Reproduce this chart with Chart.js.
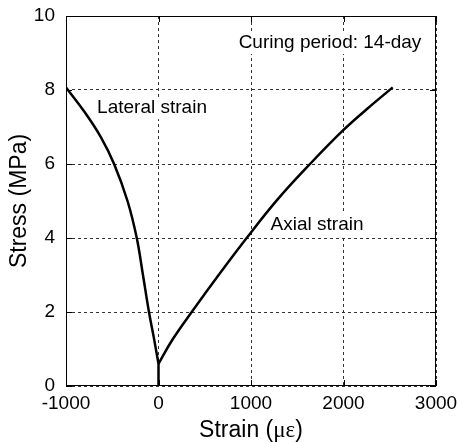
<!DOCTYPE html>
<html>
<head>
<meta charset="utf-8">
<script src="https://cdn.jsdelivr.net/npm/chart.js@4"></script>
<style>
  html, body { margin: 0; padding: 0; background: #fff; }
  #wrap { width: 458px; height: 442px; }
</style>
</head>
<body>
<div id="wrap"><canvas id="chart" width="458" height="442"></canvas></div>
<script>
// === STRESS-STRAIN CURVE (14-day) ===

const xTicks = [-1000, 0, 1000, 2000, 3000];
const yTicks = [0, 2, 4, 6, 8, 10];

const stubStrain = [0, 0];
const stubStress = [0, 0.6];

const lateralStrain = [0, -50, -103, -168, -235, -335, -480, -622, -809, -1000];
const lateralStress = [0.6, 1.3, 2.0, 3.0, 4.0, 5.0, 6.0, 6.72, 7.44, 8.07];

const axialStrain = [0, 150, 359, 650, 953, 1290, 1638, 2000, 2260, 2532];
const axialStress = [0.6, 1.25, 2.0, 3.0, 4.0, 5.05, 6.0, 6.92, 7.5, 8.07];

const notes = [
    { text: 'Curing period: 14-day', x: 1854, y: 9.27 },
    { text: 'Lateral strain', x: -70, y: 7.51 },
    { text: 'Axial strain', x: 1714, y: 4.35 }
];

const SANS = '"Liberation Sans", Arial, sans-serif';
const SERIF = '"Liberation Serif", "Times New Roman", serif';

const toPts = (xs, ys) => xs.map((x, i) => ({ x, y: ys[i] }));

const frameAndNotes = {
    id: 'frameAndNotes',
    afterDatasetsDraw(chart) {
        const { ctx, chartArea: a, scales: { x, y } } = chart;
        ctx.save();
        // frame
        ctx.strokeStyle = '#000';
        ctx.lineWidth = 1;
        ctx.strokeRect(a.left + 0.5, a.top + 0.5, a.right - a.left - 1, a.bottom - a.top - 1);
        // inward ticks on all four sides
        ctx.beginPath();
        xTicks.forEach(v => {
            const px = Math.round(x.getPixelForValue(v)) + 0.5;
            ctx.moveTo(px, a.bottom); ctx.lineTo(px, a.bottom - 6);
            ctx.moveTo(px, a.top); ctx.lineTo(px, a.top + 6);
        });
        yTicks.forEach(v => {
            const py = Math.round(y.getPixelForValue(v)) + 0.5;
            ctx.moveTo(a.left, py); ctx.lineTo(a.left + 6, py);
            ctx.moveTo(a.right, py); ctx.lineTo(a.right - 6, py);
        });
        ctx.stroke();
        // annotations with white boxes
        ctx.font = '19px ' + SANS;
        ctx.textAlign = 'center';
        ctx.textBaseline = 'middle';
        notes.forEach(n => {
            const px = x.getPixelForValue(n.x), py = y.getPixelForValue(n.y);
            const w = ctx.measureText(n.text).width;
            ctx.fillStyle = '#fff';
            ctx.fillRect(px - w / 2 - 2, py - 11, w + 4, 22);
            ctx.fillStyle = '#000';
            ctx.fillText(n.text, px, py);
        });
        // x axis title with serif micro-epsilon
        const parts = [['Strain (', SANS], ['\u03bc\u03b5', SERIF], [')', SANS]];
        ctx.textAlign = 'left';
        ctx.textBaseline = 'alphabetic';
        let total = 0;
        parts.forEach(p => { ctx.font = '23px ' + p[1]; total += ctx.measureText(p[0]).width; });
        let cx = (a.left + a.right) / 2 - total / 2;
        parts.forEach(p => { ctx.font = '23px ' + p[1]; ctx.fillText(p[0], cx, 437); cx += ctx.measureText(p[0]).width; });
        ctx.restore();
    }
};

const line = (data, tension) => ({
    data, showLine: true, borderColor: '#000', borderWidth: 2.5,
    pointRadius: 0, tension, fill: false
});

new Chart(document.getElementById('chart').getContext('2d'), {
    type: 'scatter',
    data: {
        datasets: [
            line(toPts(stubStrain, stubStress), 0),
            line(toPts(lateralStrain, lateralStress), 0.4),
            line(toPts(axialStrain, axialStress), 0.4)
        ]
    },
    options: {
        responsive: false, animation: false,
        layout: { padding: { left: 0, top: 16, right: 22, bottom: 0 } },
        plugins: { legend: { display: false }, tooltip: { enabled: false } },
        scales: {
            x: {
                type: 'linear', min: -1000, max: 3000,
                afterBuildTicks: s => { s.ticks = xTicks.map(v => ({ value: v })); },
                afterFit: s => { s.height = 56; s.paddingLeft = 0; s.paddingRight = 0; },
                grid: { color: '#333', lineWidth: 1, drawTicks: false },
                border: { display: false, dash: [3, 3] },
                ticks: { color: '#000', padding: 6, maxRotation: 0, font: { family: SANS, size: 19 }, callback: v => String(v) }
            },
            y: {
                min: 0, max: 10,
                afterBuildTicks: s => { s.ticks = yTicks.map(v => ({ value: v })); },
                afterFit: s => { s.width = 66; s.paddingTop = 0; s.paddingBottom = 0; },
                grid: { color: '#333', lineWidth: 1, drawTicks: false },
                border: { display: false, dash: [3, 3] },
                title: { display: true, text: 'Stress (MPa)', color: '#000', padding: { top: 6, bottom: 0 }, font: { family: SANS, size: 23 } },
                ticks: { color: '#000', padding: 11, font: { family: SANS, size: 19 }, callback: v => String(v) }
            }
        }
    },
    plugins: [frameAndNotes]
});
</script>
</body>
</html>
